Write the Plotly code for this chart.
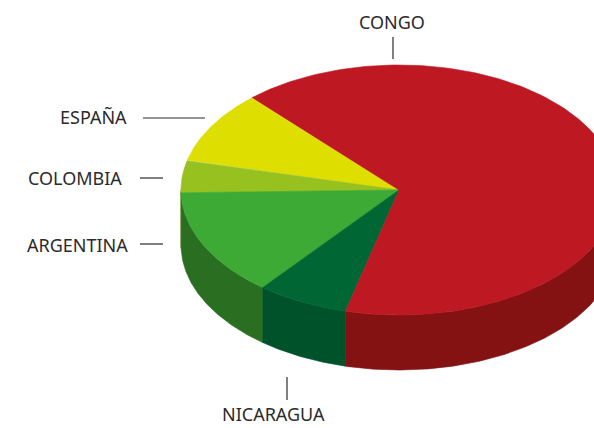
import numpy as np
import plotly.graph_objects as go

# ---- data ----
countries = ["ESPAÑA", "COLOMBIA", "ARGENTINA", "NICARAGUA", "CONGO"]
values = [9.4, 4.2, 13.9, 6.8, 65.7]
top_colors = ["#DEDE00", "#97C11E", "#3EAA36", "#006633", "#BE1823"]
side_colors = ["#A8A800", "#6E8F14", "#2A6E22", "#00522A", "#851212"]

# ---- geometry (layout constants) ----
W, H = 594, 428
cx, cy, rx, ry, depth = 399, 190, 218, 125, 55
start_deg = 132.3

def pt(theta_deg, dy=0.0):
    t = np.radians(theta_deg)
    return cx + rx * np.cos(t), cy - ry * np.sin(t) + dy

total = sum(values)
angles = []
a = start_deg
for v in values:
    b = a + 360.0 * v / total
    angles.append((a, b))
    a = b

fig = go.Figure()

# side walls (visible for the front half: 180..360 deg)
for (a, b), col in zip(angles, side_colors):
    for off in (0, 360, -360):
        lo, hi = max(a + off, 180), min(b + off, 360)
        if hi <= lo:
            continue
        th = np.linspace(lo, hi, 120)
        xs_top, ys_top = pt(th)
        xs_bot, ys_bot = pt(th[::-1], depth)
        xs = np.concatenate([xs_top, xs_bot, xs_top[:1]])
        ys = np.concatenate([ys_top, ys_bot, ys_top[:1]])
        fig.add_trace(go.Scatter(x=xs, y=ys, mode="lines", fill="toself",
                                 fillcolor=col, line=dict(width=0.6, color=col),
                                 hoverinfo="skip", showlegend=False))

# top faces
for (a, b), col, name in zip(angles, top_colors, countries):
    th = np.linspace(a, b, 200)
    xs, ys = pt(th)
    xs = np.concatenate([[cx], xs, [cx]])
    ys = np.concatenate([[cy], ys, [cy]])
    fig.add_trace(go.Scatter(x=xs, y=ys, mode="lines", fill="toself",
                             fillcolor=col, line=dict(width=0.6, color=col),
                             name=name, hoverinfo="name", showlegend=False))

# labels and leader lines
font = dict(family="Noto Sans, Open Sans, sans-serif", size=18, color="#2b2b2b")
labels = [
    ("CONGO", 392, 22, "center"),
    ("ESPAÑA", 129, 117, "right"),
    ("COLOMBIA", 124, 178, "right"),
    ("ARGENTINA", 130, 245, "right"),
    ("NICARAGUA", 273, 414, "center"),
]
for txt, x, y, anc in labels:
    fig.add_annotation(x=x, y=y, text=txt, showarrow=False, xref="x", yref="y",
                       xanchor=anc, yanchor="middle", font=font)

lines = [
    (393, 37, 393, 59),
    (143, 118, 205, 118),
    (140, 178, 163, 178),
    (140, 244, 163, 244),
    (287, 377, 287, 400),
]
for x0, y0, x1, y1 in lines:
    fig.add_shape(type="line", x0=x0, y0=y0, x1=x1, y1=y1, xref="x", yref="y",
                  line=dict(color="#2b2b2b", width=1.2))

fig.update_layout(
    width=W, height=H,
    margin=dict(l=0, r=0, t=0, b=0),
    paper_bgcolor="white", plot_bgcolor="white",
    xaxis=dict(range=[0, W], visible=False, fixedrange=True),
    yaxis=dict(range=[H, 0], visible=False, fixedrange=True),
)

fig.write_html("out.html", config={"displayModeBar": False},
               post_script="document.body.style.margin='0';document.body.style.overflow='hidden';")
